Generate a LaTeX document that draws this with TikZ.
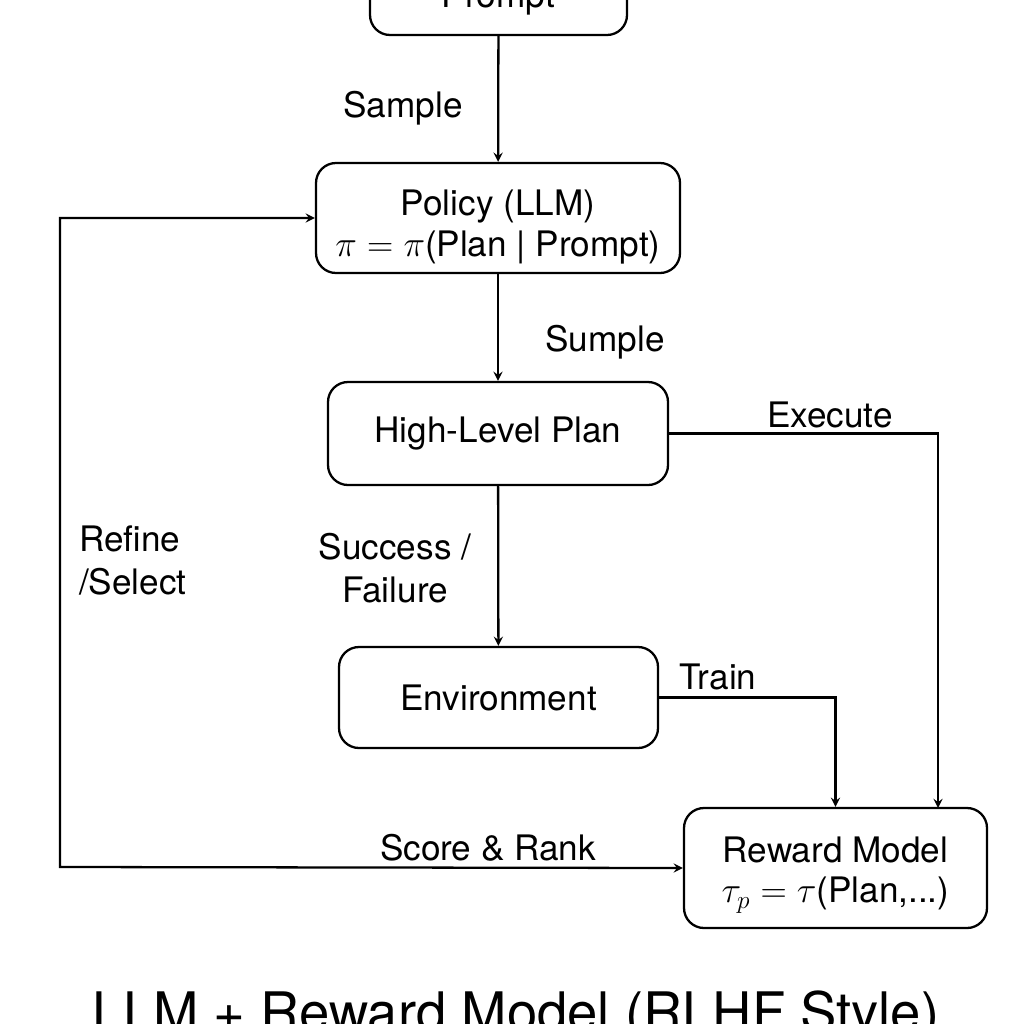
\documentclass[tikz,border=0pt]{standalone}
\usepackage{fontspec}
\setmainfont{TeX Gyre Heros}
\usepackage{amsmath}
\usetikzlibrary{arrows, positioning, calc}

\begin{document}
\begin{tikzpicture}[>=stealth, x=0.02cm, y=-0.02cm, line width=1.3pt,
    box/.style={draw, rounded corners=0.4cm, align=center, font=\fontsize{20}{23}\selectfont},
    lbl/.style={font=\fontsize{20}{24}\selectfont, inner sep=0pt}]
      \useasboundingbox (0,0) rectangle (1024,1024);
      \clip (0,0) rectangle (1024,1024);

      \node[box, minimum width=257*0.02cm, minimum height=72*0.02cm] (prompt) at (498.5,-1) {Prompt};
      \node[box, minimum width=364*0.02cm, minimum height=110*0.02cm, text height=1.68cm] (policy) at (498,218) {Policy (LLM)\\$\pi = \pi$(Plan | Prompt)};
      \node[box, minimum width=340*0.02cm, minimum height=103*0.02cm] (plan) at (498,433.5) {High-Level Plan};
      \node[box, minimum width=319*0.02cm, minimum height=101*0.02cm] (env) at (498.5,697.5) {Environment};
      \node[box, minimum width=303*0.02cm, minimum height=120*0.02cm, text height=1.6cm] (reward) at (835.5,868) {Reward Model\\$\tau_p = \tau$(Plan,...)};

      \coordinate (exe) at (938,808);
      \coordinate (corner) at (60,867);

      \draw[->] (prompt) -- (policy);
      \draw[->] (policy) -- (plan);
      \draw[->] (plan) -- (env);
      \draw[->] (plan.east) -| (exe);
      \draw[->] (env.east) -| (reward.north);
      \draw[<->] (reward.west) -- (corner) |- (policy.west);

      \node[lbl, anchor=base] (sample) at (403,117) {Sample};
      \node[lbl, anchor=base] (sumple) at (605,351) {Sumple};
      \node[lbl, anchor=base] (execute) at (830,427) {Execute};
      \node[lbl, anchor=base, align=center] (outcome) at (395,602) {Success /\\ Failure};
      \node[lbl, anchor=base] (train) at (718,689) {Train};
      \node[lbl, anchor=base west, align=left] (refine) at (78,594) {Refine\\/Select};
      \node[lbl, anchor=base] (score) at (488,860) {Score \& Rank};
      \node[anchor=base, inner sep=0pt, font=\fontsize{31}{36}\selectfont] (title) at (516,1031) {LLM + Reward Model (RLHF Style)};
    \end{tikzpicture}
\end{document}
